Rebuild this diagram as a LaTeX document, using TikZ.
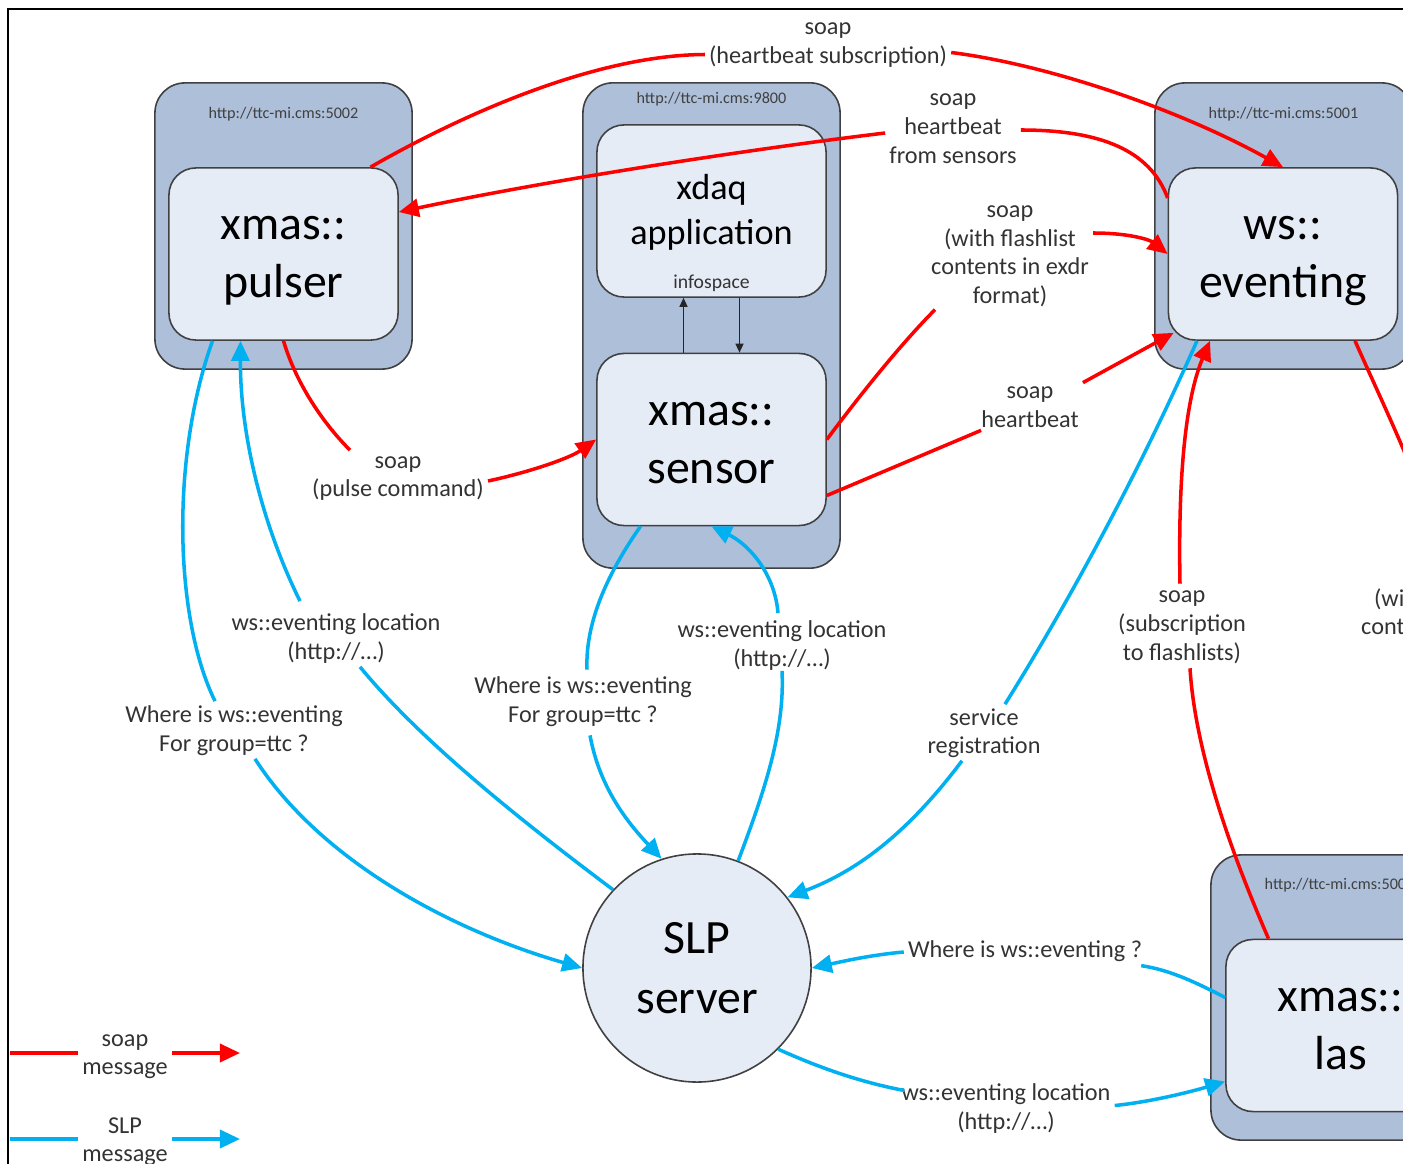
\documentclass[tikz,border=0pt]{standalone}
\usepackage{fontspec}
\setmainfont{Carlito}
\usetikzlibrary{arrows.meta, positioning, calc}

\definecolor{hostblue}{RGB}{173,191,217}
\definecolor{appblue}{RGB}{230,236,246}
\definecolor{soapred}{RGB}{255,0,0}
\definecolor{slpblue}{RGB}{0,176,240}

\newcommand{\appfont}{\fontsize{13.6}{16.6}\selectfont}
\newcommand{\xdaqfont}{\fontsize{10.3}{12.8}\selectfont}
\newcommand{\msgfont}{\fontsize{6.9}{8.2}\selectfont}
\newcommand{\hostfont}{\fontsize{4.6}{5.5}\selectfont}
\newcommand{\infofont}{\fontsize{5.6}{6.7}\selectfont}

\begin{document}
\begin{tikzpicture}[x=0.01cm, y=-0.01cm, >={Triangle[length=0.2cm, width=0.18cm]}]
  \tikzstyle{hostbox}=[draw=black!75, line width=0.45pt, fill=hostblue, rounded corners=0.3cm, minimum width=2.57cm]
  \tikzstyle{appbox}=[draw=black!75, line width=0.45pt, fill=appblue, rounded corners=0.27cm, align=center, minimum width=2.29cm, minimum height=1.72cm]
  % the rule sits on the last baseline, so it sets the top of two-line names
  \tikzstyle{appname}=[appbox, font=\appfont, execute at begin node={\rule{0pt}{30pt}}, execute at end node=\strut]
  \tikzstyle{urltext}=[font=\hostfont, text=black!75]
  \tikzstyle{msg}=[align=center, inner sep=1pt, font=\msgfont, text=black!80, execute at begin node=\strut, execute at end node=\strut]
  \tikzstyle{soapline}=[draw=soapred, line width=1pt]
  \tikzstyle{slpline}=[draw=slpblue, line width=1pt]
  \tikzstyle{infoarrow}=[draw=black!85, line width=0.4pt, -{Triangle[length=0.09cm, width=0.08cm]}]

  \useasboundingbox (0,0) rectangle (1403,1164);
  \clip (0,0) rectangle (1403,1164);
  \draw[line width=0.7pt] (1420,9) -- (8,9) -- (8,1180);

  % Hosts with their urls
  \node[hostbox, minimum height=2.86cm] (hostP) at (283.5,226) {};
  \node[hostbox, minimum height=4.85cm] (hostS) at (711.5,325.5) {};
  \node[hostbox, minimum height=2.86cm] (hostE) at (1283.5,226) {};
  \node[hostbox, minimum height=2.85cm] (hostL) at (1339.5,997.5) {};
  \node[urltext] (urlP) at (283.5,114) {http://ttc-mi.cms:5002};
  \node[urltext] (urlS) at (711.5,99) {http://ttc-mi.cms:9800};
  \node[urltext] (urlE) at (1283.5,114) {http://ttc-mi.cms:5001};
  \node[urltext] (urlL) at (1339.5,885) {http://ttc-mi.cms:5003};

  % Applications
  \node[appname] (pulser) at (283.5,254) {xmas::\\pulser};
  \node[appbox, font=\xdaqfont, execute at begin node={\rule{0pt}{22.9pt}}, execute at end node=\strut] (xdaq) at (711.5,211) {xdaq\\application};
  \node[font=\infofont, text=black!80, above=-1.7pt of xdaq.south] (info) {infospace};
  \node[appname] (sensor) at (711.5,439.5) {xmas::\\sensor};
  \node[appname] (eventing) at (1283,254) {ws::\\eventing};
  \node[appname] (las) at (1340.5,1025.5) {xmas::\\las};
  \node[circle, draw=black!75, line width=0.45pt, fill=appblue, minimum size=2.28cm, align=center, font=\fontsize{13.6}{17}\selectfont, execute at begin node={\rule{0pt}{31.1pt}}, execute at end node=\strut] (server) at (697,968) {SLP\\server};

  \draw[infoarrow] ($(sensor.north)+(-28,0)$) -- ($(xdaq.south)+(-28,0)$);
  \draw[infoarrow] ($(xdaq.south)+(28,0)$) -- ($(sensor.north)+(28,0)$);

  % Message labels
  \node[msg] (hbsub) at (828,47.5) {soap\\(heartbeat subscription)};
  \node[msg] (hbsens) at (953,133) {soap\\heartbeat\\from sensors};
  \node[msg] (flash) at (1010,259) {soap\\(with flashlist\\contents in exdr\\format)};
  \node[msg] (hbeat) at (1030,411.5) {soap\\heartbeat};
  \node[msg] (pulse) at (398,481) {soap\\(pulse command)};
  \node[msg] (subflash) at (1182,630) {soap\\(subscription\\to flashlists)};
  \node[msg] (flashout) at (1440,619) {soap\\(with flashlist\\contents in exdr\\format)};
  \node[msg] (whereP) at (234,732.5) {Where is ws::eventing\\For group=ttc ?};
  \node[msg] (locP) at (336,640.5) {ws::eventing location\\(http://…)};
  \node[msg] (whereS) at (583,704) {Where is ws::eventing\\For group=ttc ?};
  \node[msg] (locS) at (782,647.5) {ws::eventing location\\(http://…)};
  \node[msg] (service) at (984,735.5) {service\\registration};
  \node[msg] (whereL) at (1025,952) {Where is ws::eventing ?};
  \node[msg] (locL) at (1006,1110.5) {ws::eventing location\\(http://…)};

  % soap messages
  \draw[soapline] ($(pulser.north)+(87,0)$) .. controls (470,110) and (600,55) .. ($(hbsub.west)+(0,7)$);
  \draw[soapline, ->] ($(hbsub.east)+(0,5)$) .. controls (1050,65) and (1180,110) .. (eventing.north);
  \draw[soapline] ($(eventing.west)+(0,-56)$) .. controls (1150,150) and (1100,130) .. ($(hbsens.east)+(0,-3)$);
  \draw[soapline, ->] (hbsens.west) .. controls (760,148) and (560,178) .. ($(pulser.east)+(0,-42)$);
  \draw[soapline] (sensor.east) .. controls (860,395) and (900,345) .. ($(flash.south west)+(8,-7)$);
  \draw[soapline, ->] ($(flash.east)+(0,-26)$) .. controls (1130,233) and (1150,240) .. (eventing.west);
  \draw[soapline] ($(sensor.east)+(0,56)$) -- ($(hbeat.south west)+(4,-10)$);
  \draw[soapline, ->] (hbeat.north east) -- ($(eventing.south west)+(6,-8)$);
  \draw[soapline] (pulser.south) .. controls (295,380) and (320,420) .. ($(pulse.north)+(-48,-2)$);
  \draw[soapline, ->] (pulse.east) .. controls (530,472) and (570,458) .. (sensor.west);
  \draw[soapline] ($(las.north)+(-72,0)$) .. controls (1230,850) and (1195,750) .. ($(subflash.south)+(8,-5)$);
  \draw[soapline, ->] ($(subflash.north)+(-2,-3)$) .. controls (1178,480) and (1185,400) .. ($(eventing.south)+(-73,0)$);
  \draw[soapline] ($(eventing.south)+(72,0)$) .. controls (1390,420) and (1430,500) .. (flashout.north);

  % SLP messages
  \draw[slpline] ($(pulser.south)+(-71,0)$) .. controls (170,460) and (175,620) .. ($(whereP.north)+(-19,0)$);
  \draw[slpline, ->] ($(whereP.south)+(21,-5)$) .. controls (320,860) and (450,930) .. (server.west);
  \draw[slpline] (server.137) .. controls (520,820) and (420,740) .. ($(locP.south)+(24,-5)$);
  \draw[slpline, ->] ($(locP.north)+(-36,-8)$) .. controls (260,520) and (240,430) .. ($(pulser.south)+(-43,0)$);
  \draw[slpline] ($(sensor.south)+(-71,0)$) .. controls (610,570) and (585,620) .. ($(whereS.north)+(4,-3)$);
  \draw[slpline, ->] ($(whereS.south)+(7,0)$) .. controls (600,790) and (630,825) .. (server.108);
  \draw[slpline] (server.69) .. controls (765,790) and (785,730) .. ($(locS.south)+(0,-8)$);
  \draw[slpline, ->] ($(locS.north)+(-4,-3)$) .. controls (775,575) and (750,545) .. (sensor.south);
  \draw[slpline] ($(eventing.south)+(-86,0)$) .. controls (1140,470) and (1070,600) .. ($(service.north)+(21,0)$);
  \draw[slpline, ->] ($(service.south)+(-22,-6)$) .. controls (910,830) and (860,870) .. (server.38);
  \draw[slpline] ($(las.west)+(0,-28)$) .. controls (1195,982) and (1170,970) .. ($(whereL.south east)+(-5,-5)$);
  \draw[slpline, ->] (whereL.west) .. controls (870,955) and (840,962) .. (server.east);
  \draw[slpline] (server.-45) .. controls (820,1068) and (860,1082) .. ($(locL.west)+(7,-20)$);
  \draw[slpline, ->] ($(locL.east)+(0,-5)$) .. controls (1150,1102) and (1190,1092) .. ($(las.west)+(0,56)$);

  % Legend
  \node[msg] (soapkey) at (125,1059) {soap\\message};
  \node[msg] (slpkey) at (125,1144) {SLP\\message};
  \coordinate (soapkeyA) at (10,1053);
  \coordinate (soapkeyB) at (240,1053);
  \coordinate (slpkeyA) at (10,1139);
  \coordinate (slpkeyB) at (240,1139);
  \draw[soapline] (soapkeyA) -- (soapkey.west |- soapkeyA);
  \draw[soapline, ->] (soapkey.east |- soapkeyB) -- (soapkeyB);
  \draw[slpline] (slpkeyA) -- (slpkey.west |- slpkeyA);
  \draw[slpline, ->] (slpkey.east |- slpkeyB) -- (slpkeyB);
\end{tikzpicture}
\end{document}
